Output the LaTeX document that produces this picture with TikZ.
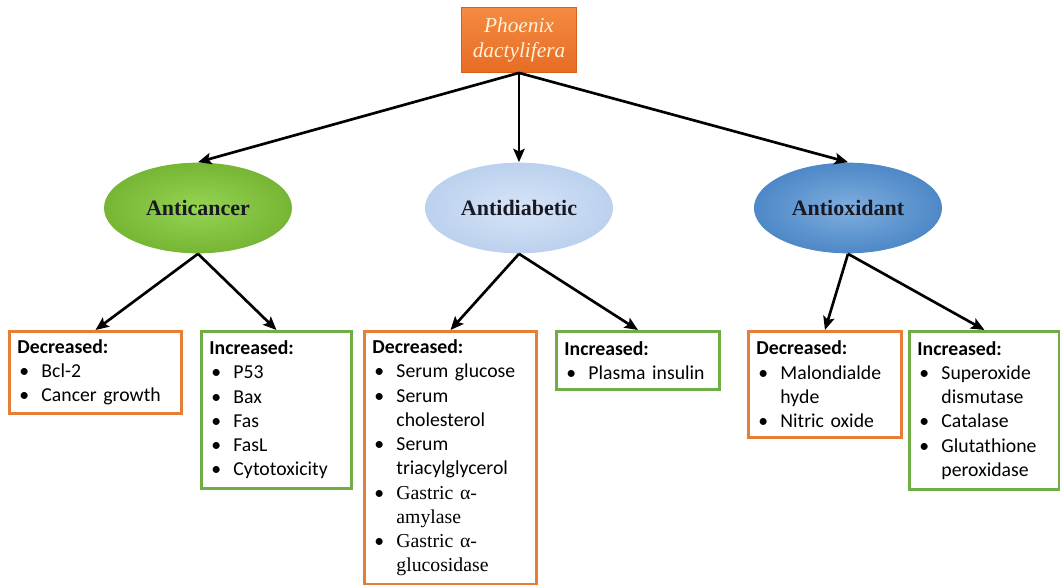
\documentclass[tikz,border=0pt]{standalone}
\usepackage{fontspec}
\setmainfont{Carlito}
\newfontfamily\serifrm{Liberation Serif}
\usetikzlibrary{arrows.meta,shapes.geometric}

\definecolor{plantor}{RGB}{236,118,44}
\definecolor{decor}{RGB}{230,126,56}
\definecolor{incgr}{RGB}{112,173,71}

\tikzset{every picture/.style={line width=0.75pt}}
\newcommand{\bul}{\makebox[18pt][l]{\hspace{1.5pt}\textbullet}}
\newcommand{\cnt}{\hspace*{18pt}}

\begin{document}
\begin{tikzpicture}[x=0.75pt,y=0.75pt,yscale=-1,xscale=1,
	plant/.style={rectangle, draw={rgb,255:red,214;green,96;blue,30}, line width=0.6pt,
		top color={rgb,255:red,244;green,138;blue,66}, bottom color={rgb,255:red,232;green,108;blue,36},
		text={rgb,255:red,255;green,242;blue,214}, align=center,
		font=\serifrm\itshape\fontsize{16}{18.5}\selectfont, minimum width=86.25pt, minimum height=48.75pt},
	action/.style={ellipse, draw=none, inner sep=0pt, minimum width=141pt, minimum height=68pt,
		text={rgb,255:red,25;green,25;blue,35}, font=\serifrm\bfseries\fontsize{16.5}{19}\selectfont},
	effect/.style={rectangle, draw, line width=2.2pt, fill=white, align=left, anchor=north west,
		inner xsep=6pt, inner ysep=3pt, font=\fontsize{14.8}{18.2}\selectfont},
	decbox/.style={effect, draw=decor},
	incbox/.style={effect, draw=incgr},
	arr/.style={-{Stealth[length=10pt,width=8.5pt,inset=2pt]}, line width=2pt}]
	\useasboundingbox (0,0) rectangle (1060,585);

	% top
	\node [plant] (plant) at (519,40) {Phoenix\\dactylifera};

	% activities
	\node [action, inner color={rgb,255:red,150;green,212;blue,84}, outer color={rgb,255:red,118;green,182;blue,52}] (acan) at (198,208) {Anticancer};
	\node [action, inner color={rgb,255:red,214;green,228;blue,247}, outer color={rgb,255:red,188;green,209;blue,238}] (adia) at (519,208) {Antidiabetic};
	\node [action, inner color={rgb,255:red,126;green,174;blue,222}, outer color={rgb,255:red,78;green,136;blue,199}] (aox) at (848,208) {Antioxidant};

	\draw [arr] (plant.south) -- (acan.north);
	\draw [arr] (plant.south) -- (adia.north);
	\draw [arr] (plant.south) -- (aox.north);

	% anticancer
	\node [decbox, text width=117pt, minimum height=61.5pt] (dec1) at (8,330)
		{\textbf{Decreased:}\\ \bul Bcl-2\\ \bul Cancer growth};
	\node [incbox, text width=100.5pt, minimum height=117.75pt] (inc1) at (200,330)
		{\textbf{Increased:}\\ \bul P53\\ \bul Bax\\ \bul Fas\\ \bul FasL\\ \bul Cytotoxicity};

	% antidiabetic
	\node [decbox, text width=117pt, minimum height=189.75pt] (dec2) at (363,330)
		{\textbf{Decreased:}\\ \bul Serum glucose\\ \bul Serum\\ \cnt cholesterol\\ \bul Serum\\ \cnt triacylglycerol\\
		 \bul {\serifrm Gastric α-}\\ \cnt {\serifrm amylase}\\ \bul {\serifrm Gastric α-}\\ \cnt {\serifrm glucosidase}};
	\node [incbox, text width=110.25pt, minimum height=43.5pt] (inc2) at (555,330)
		{\textbf{Increased:}\\ \bul Plasma insulin};

	% antioxidant
	\node [decbox, text width=102.75pt, minimum height=79.5pt] (dec3) at (747,330)
		{\textbf{Decreased:}\\ \bul Malondialde\\ \cnt hyde\\ \bul Nitric oxide};
	\node [incbox, text width=100.5pt, minimum height=118.5pt] (inc3) at (908,330)
		{\textbf{Increased:}\\ \bul Superoxide\\ \cnt dismutase\\ \bul Catalase\\ \bul Glutathione\\ \cnt peroxidase};

	\draw [arr] (acan.south) -- (dec1.north);
	\draw [arr] (acan.south) -- (inc1.north);
	\draw [arr] (adia.south) -- (dec2.north);
	\draw [arr] (adia.south) -- (inc2.north);
	\draw [arr] (aox.south) -- (dec3.north);
	\draw [arr] (aox.south) -- (inc3.north);

\end{tikzpicture}
\end{document}
